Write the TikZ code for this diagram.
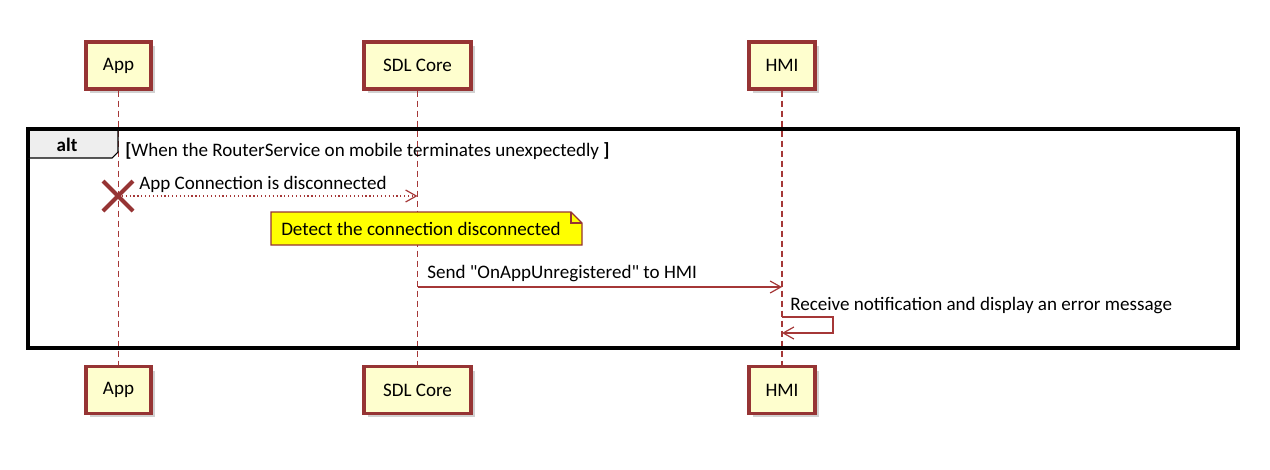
\documentclass[tikz,border=0pt]{standalone}
\usepackage{fontspec}
\setmainfont{Carlito}
\usetikzlibrary{arrows.meta,calc}
\definecolor{partborder}{RGB}{150,52,52}
\definecolor{partfill}{RGB}{254,254,206}
\definecolor{linecol}{RGB}{165,55,55}
\definecolor{notefill}{RGB}{255,255,0}
\definecolor{tabfill}{RGB}{238,238,238}
\tikzset{
  part/.style={draw=partborder, line width=2.7pt, fill=partfill, minimum height=35pt, inner sep=0pt, font=\fontsize{14.3}{17}\selectfont},
  lifeline/.style={draw=linecol, dashed, dash pattern=on 4.5pt off 3pt, line width=0.8pt},
  msg/.style={draw=linecol, line width=0.9pt, -{Straight Barb[length=8pt,width=9pt]}},
  lbl/.style={font=\fontsize{14.3}{17}\selectfont, inner sep=0pt, anchor=base west},
}
\begin{document}
\begin{tikzpicture}[x=0.75pt,y=-0.75pt]
\useasboundingbox (0,0) rectangle (1270,469);
% shadows
\foreach \a/\b/\c/\d in {86/42/151/89, 364/42/471/89, 749/42/815/89, 86/367/151/413, 364/367/471/413, 749/367/815/413}{
  \fill[black!18] (\a+4,\b+4) rectangle (\c+4,\d+4);
}
% participants
\node[part, minimum width=48.75pt] (appT) at (118.5,65.5) {App};
\node[part, minimum width=80.25pt] (sdlT) at (417.5,65.5) {SDL Core};
\node[part, minimum width=49.5pt] (hmiT) at (782,65.5) {HMI};
\node[part, minimum width=48.75pt] (appB) at (118.5,390) {App};
\node[part, minimum width=80.25pt] (sdlB) at (417.5,390) {SDL Core};
\node[part, minimum width=49.5pt] (hmiB) at (782,390) {HMI};
% lifelines
\draw[lifeline] (appT.south) -- (appB.north);
\draw[lifeline] (sdlT.south) -- (sdlB.north);
\draw[lifeline] (hmiT.south) -- (hmiB.north);
% alt frame
\draw[black, line width=2.6pt] (28,129) rectangle (1238,348);
\path[fill=tabfill, draw=black, line width=0.8pt] (28,129) -- (118,129) -- (118,152) -- (112,158) -- (28,158) -- cycle;
\draw[black, line width=2.6pt] (28,129) -- (118,129);
\draw[black, line width=2.6pt] (28,129) -- (28,158);
\node[font=\fontsize{14.3}{17}\selectfont\bfseries, inner sep=0pt] (altlbl) at (67,145) {alt};
\node[lbl] (guard) at (125,156) {\textbf{[}When the RouterService on mobile terminates unexpectedly \textbf{]}};
% destroy + message 1
\coordinate (m1s) at (118,196);
\coordinate (m1e) at (417.5,196);
\draw[msg, dotted, line width=0.9pt] (m1s) -- (m1e);
\draw[partborder, line width=3pt] (103,181) -- (133,211) (103,211) -- (133,181);
\node[lbl] (m1lbl) at (139,189) {App Connection is disconnected};
% note
\path[fill=notefill, draw=partborder, line width=0.8pt] (271,212) -- (571,212) -- (582,223) -- (582,245) -- (271,245) -- cycle;
\draw[partborder, line width=0.8pt] (571,212) -- (571,223) -- (582,223);
\node[lbl] (notelbl) at (281,235) {Detect the connection disconnected};
% message 2
\coordinate (m2s) at (417.5,287);
\coordinate (m2e) at (782,287);
\draw[msg] (m2s) -- (m2e);
\node[lbl] (m2lbl) at (427,278) {Send \textquotedbl OnAppUnregistered\textquotedbl{} to HMI};
% self message
\coordinate (m3s) at (782,317);
\coordinate (m3e) at (782,333);
\draw[msg] (m3s) -- (833,317) -- (833,333) -- (m3e);
\node[lbl] (m3lbl) at (790,310) {Receive notification and display an error message};
\end{tikzpicture}
\end{document}
